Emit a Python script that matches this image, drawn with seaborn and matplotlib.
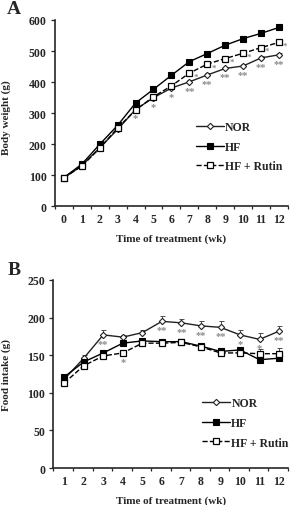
import numpy as np
import pandas as pd
import matplotlib
matplotlib.use("Agg")
import matplotlib.pyplot as plt
from matplotlib.ticker import MultipleLocator
import seaborn as sns

sns.set_style("ticks")
plt.rcParams['font.family'] = ['Liberation Serif', 'DejaVu Serif']
plt.rcParams['font.weight'] = 'bold'
plt.rcParams['axes.labelweight'] = 'bold'

# Panel A: body weight (g), weeks 0-12
weeks_a = list(range(0, 13))
bw_nor = [92, 131, 189, 248, 312, 350, 381, 401, 423, 444, 452, 478, 488]
bw_hf = [93, 136, 200, 261, 333, 377, 422, 466, 492, 519, 540, 557, 576]
bw_rutin = [92, 130, 187, 253, 310, 353, 388, 429, 458, 476, 493, 511, 528]
bw_nor_err = [2, 3, 3, 4, 4, 5, 5, 5, 6, 6, 7, 7, 7]
bw_hf_err = [2, 3, 3, 4, 4, 4, 5, 5, 5, 5, 5, 5, 5]
bw_rutin_err = [2, 3, 3, 4, 4, 5, 5, 5, 6, 6, 6, 6, 6]
bw_nor_stars = ['', '', '', '', '*', '*', '*', '**', '**', '**', '**', '**', '**']
bw_rutin_stars = ['', '', '', '', '', '', '', '*', '*', '*', '*', '*', '*']

# Panel B: food intake (g), weeks 1-12
weeks_b = list(range(1, 13))
fi_nor = [118, 146, 177, 174, 180, 195, 193, 189, 187, 177, 171, 182]
fi_hf = [121, 141, 153, 166, 169, 168, 168, 162, 155, 157, 144, 146]
fi_rutin = [113, 136, 149, 153, 166, 166, 167, 161, 153, 153, 152, 152]
fi_nor_err = [3, 4, 6, 3, 4, 7, 5, 7, 8, 6, 9, 7]
fi_hf_err = [2, 3, 4, 3, 3, 3, 3, 3, 4, 4, 4, 4]
fi_rutin_err = [2, 3, 3, 4, 3, 3, 3, 3, 4, 4, 6, 7]
fi_nor_stars = ['', '', '**', '', '', '**', '**', '**', '**', '*', '*', '**']
fi_rutin_stars = ['', '', '', '*', '', '', '', '', '', '', '', '']

groups = ['NOR', 'HF', 'HF + Rutin']
star_color = '#8c8c8c'

fig = plt.figure(figsize=(2.92, 5.06), dpi=100)
ax_a = fig.add_axes([0.188, 0.590, 0.798, 0.3685])
ax_b = fig.add_axes([0.183, 0.0731, 0.803, 0.3716])


def draw_panel(ax, weeks, nor, hf, rutin, errs, nor_stars, rutin_stars, rutin_star_below):
    styles = [
        dict(marker='D', markersize=3.2, markerfacecolor='white', markeredgecolor='#222222',
             markeredgewidth=0.8, color='#222222', linestyle='-'),
        dict(marker='s', markersize=4.2, markerfacecolor='black', markeredgecolor='black',
             markeredgewidth=0.8, color='black', linestyle='-'),
        dict(marker='s', markersize=4.2, markerfacecolor='white', markeredgecolor='black',
             markeredgewidth=0.9, color='black', linestyle='--'),
    ]
    for name, vals, err, st in zip(groups, [nor, hf, rutin], errs, styles):
        ax.errorbar(weeks, vals, yerr=[np.zeros(len(err)), err], fmt='none',
                    ecolor='#333333', elinewidth=0.6, capsize=1.8, capthick=0.6)
        sns.lineplot(x=weeks, y=vals, ax=ax, label=name, linewidth=1.0, **st)

    for w, v, s in zip(weeks, nor, nor_stars):
        if s:
            ax.annotate(s, (w, v), xytext=(0, -6), textcoords='offset points',
                        ha='center', va='center', fontsize=7.5, color=star_color)
    for w, v, s in zip(weeks, rutin, rutin_stars):
        if s:
            if rutin_star_below:
                ax.annotate(s, (w, v), xytext=(0, -6), textcoords='offset points',
                            ha='center', va='center', fontsize=7.5, color=star_color)
            else:
                ax.annotate(s, (w, v), xytext=(4.5, -2.5), textcoords='offset points',
                            ha='center', va='center', fontsize=6.5, color=star_color)

    sns.despine(ax=ax)
    ax.spines['left'].set_linewidth(1.2)
    ax.spines['bottom'].set_linewidth(1.2)
    ax.set_xticks(weeks)
    ax.tick_params(axis='x', which='major', length=0, labelsize=8.5, pad=5)
    ax.tick_params(axis='x', which='minor', length=2.5, width=0.9)
    ax.tick_params(axis='y', length=3, width=0.9, labelsize=8.5, pad=3)
    for lab in ax.get_xticklabels() + ax.get_yticklabels():
        lab.set_fontweight('bold')
    ax.set_xlabel('Time of treatment (wk)', fontsize=8, fontweight='bold', labelpad=6)


draw_panel(ax_a, weeks_a, bw_nor, bw_hf, bw_rutin,
           [bw_nor_err, bw_hf_err, bw_rutin_err], bw_nor_stars, bw_rutin_stars, False)
ax_a.set_xlim(-0.5, 12.5)
ax_a.xaxis.set_minor_locator(MultipleLocator(1, offset=0.5))
ax_a.set_ylim(0, 600)
ax_a.set_yticks(range(0, 601, 100))
ax_a.set_ylabel('Body weight (g)', fontsize=8, fontweight='bold')
ax_a.yaxis.set_label_coords(-0.19, 0.48)
ax_a.legend(frameon=False, handlelength=2.35, handletextpad=0.1, labelspacing=0.65,
            numpoints=1, loc='center left', bbox_to_anchor=(0.56, 0.32),
            prop={'weight': 'bold', 'size': 8.5})

draw_panel(ax_b, weeks_b, fi_nor, fi_hf, fi_rutin,
           [fi_nor_err, fi_hf_err, fi_rutin_err], fi_nor_stars, fi_rutin_stars, True)
ax_b.set_xlim(0.45, 12.45)
ax_b.xaxis.set_minor_locator(MultipleLocator(1, offset=0.45))
ax_b.set_ylim(0, 250)
ax_b.set_yticks(range(0, 251, 50))
ax_b.set_ylabel('Food intake (g)', fontsize=8, fontweight='bold')
ax_b.yaxis.set_label_coords(-0.18, 0.5)
ax_b.legend(frameon=False, handlelength=2.35, handletextpad=0.1, labelspacing=0.65,
            numpoints=1, loc='center left', bbox_to_anchor=(0.59, 0.24),
            prop={'weight': 'bold', 'size': 8.5})

fig.text(0.025, 0.998, 'A', fontsize=14, fontweight='bold', va='top')
fig.text(0.025, 0.482, 'B', fontsize=14, fontweight='bold', va='top')

fig.savefig('out.png', dpi=100)
